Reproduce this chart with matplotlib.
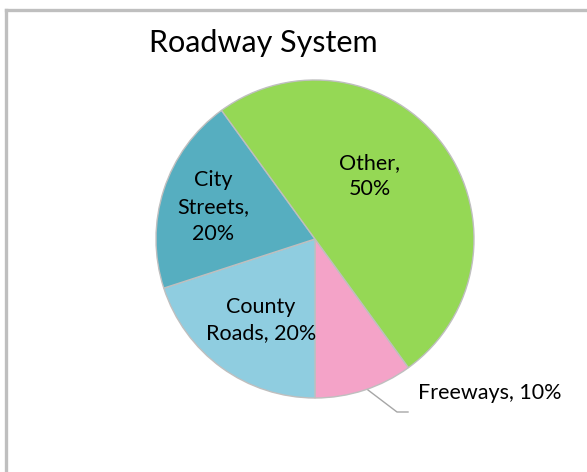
import matplotlib.pyplot as plt
from matplotlib.lines import Line2D

# data
labels = ["Freeways", "County Roads", "City Streets", "Other"]
shares = [10, 20, 20, 50]
colors = ["#F4A3C8", "#8FCDE0", "#56AEC0", "#95D855"]

W, H = 587, 472
fig = plt.figure(figsize=(W / 100, H / 100), dpi=100, facecolor="white")
plt.rcParams["font.family"] = ["Lato", "DejaVu Sans"]

# chart border (left and top edges only visible)
fig.add_artist(Line2D([5.5 / W, 5.5 / W], [0, 1 - 9.5 / H], transform=fig.transFigure,
                      color="#BFBFBF", linewidth=2.4))
fig.add_artist(Line2D([5.5 / W, 1], [1 - 9.5 / H, 1 - 9.5 / H], transform=fig.transFigure,
                      color="#BFBFBF", linewidth=2.4))

# pie axes: centre (315, 239), radius 159 px
cx, cy, r = 315, 239, 159
ax = fig.add_axes([(cx - r) / W, 1 - (cy + r) / H, 2 * r / W, 2 * r / H])
wedges, _ = ax.pie(shares, colors=colors, startangle=306, counterclock=False,
                   radius=1.0,
                   wedgeprops=dict(edgecolor="#BFBFBF", linewidth=1.0))
ax.set_xlim(-1, 1)
ax.set_ylim(-1, 1)
ax.set_aspect("equal")
ax.axis("off")

fig.text(263 / W, 1 - 43 / H, "Roadway System", ha="center", va="center",
         fontsize=22, color="black")

def px(x, y):
    return (x - cx) / r, (cy - y) / r

fs = 15.5
ls = 1.42
ax.text(*px(370, 176), "Other,\n50%", ha="center", va="center", fontsize=fs,
        linespacing=ls)
ax.text(*px(213, 207), "City\nStreets,\n20%", ha="center", va="center", fontsize=fs,
        linespacing=ls)
ax.text(*px(261, 320), "County\nRoads, 20%", ha="center", va="center", fontsize=fs,
        linespacing=ls)
ax.text(*px(418, 393), "Freeways, 10%", ha="left", va="center", fontsize=fs,
        clip_on=False)

lx, ly = zip(px(368, 390), px(397, 412), px(408, 412))
ax.plot(lx, ly, color="#A6A6A6", linewidth=1.0, clip_on=False)

fig.savefig("out.png", dpi=100, facecolor="white")
